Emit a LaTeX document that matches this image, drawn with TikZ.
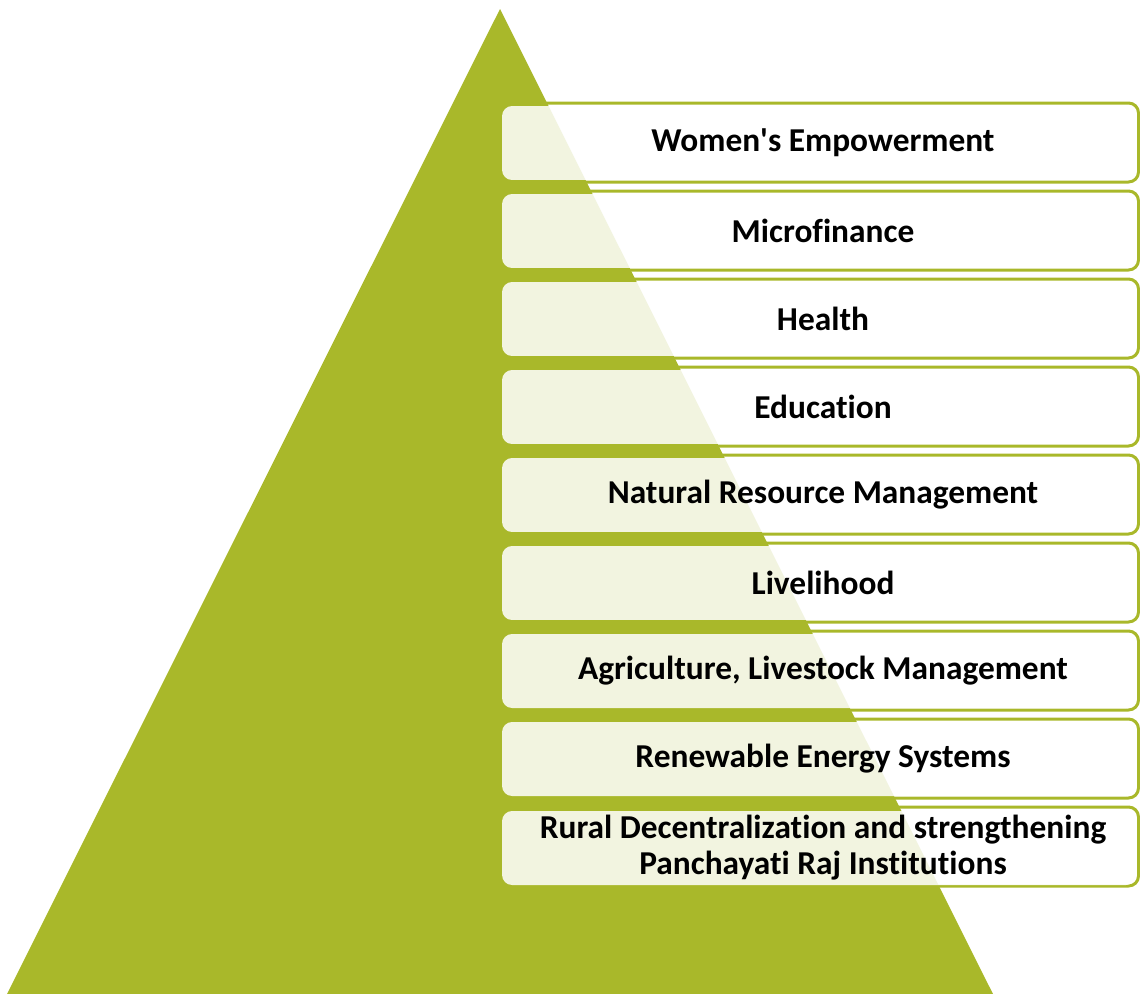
\documentclass[tikz,border=0pt]{standalone}
\usepackage{fontspec}
\setmainfont{Carlito}[Ligatures={NoCommon}]
\definecolor{leaf}{HTML}{A9B82A}
\tikzset{
  item/.style={rectangle, rounded corners=0.2cm, fill=white, fill opacity=0.86, text opacity=1,
    minimum width=12.68cm, minimum height=1.48cm, inner sep=0pt, align=center,
    font=\bfseries\fontsize{19}{20.5}\selectfont},
  rim/.style={draw=leaf, line width=0.06cm, rounded corners=0.2cm}
}
\begin{document}
\begin{tikzpicture}[x=0.02cm,y=-0.02cm]
\useasboundingbox (0,0) rectangle (1140,994);
\fill[leaf] (500,9) -- (7,994) -- (993,994) -- cycle;
\draw[rim] (520,103) rectangle (1138.5,182);
\draw[rim] (520,191) rectangle (1138.5,270);
\draw[rim] (520,279) rectangle (1138.5,358);
\draw[rim] (520,367) rectangle (1138.5,446);
\draw[rim] (520,455) rectangle (1138.5,534);
\draw[rim] (520,543) rectangle (1138.5,622);
\draw[rim] (520,631) rectangle (1138.5,710);
\draw[rim] (520,719) rectangle (1138.5,798);
\draw[rim] (520,807) rectangle (1138.5,886);
\node[item] (women) at (819,143) {\hspace{0.16cm}Women\textquotesingle s Empowerment};
\node[item] (micro) at (819,231) {\hspace{0.16cm}Microfinance};
\node[item] (health) at (819,319) {\hspace{0.16cm}Health};
\node[item] (edu) at (819,407) {\hspace{0.16cm}Education};
\node[item] (nrm) at (819,495) {\hspace{0.16cm}Natural Resource Management};
\node[item] (live) at (819,583) {\hspace{0.16cm}Livelihood};
\node[item] (agri) at (819,671) {\hspace{0.16cm}Agriculture, Livestock Management};
\node[item] (energy) at (819,759) {\hspace{0.16cm}Renewable Energy Systems};
\node[item] (rural) at (819,848) {\hspace{0.16cm}Rural Decentralization and strengthening\\\hspace{0.16cm}Panchayati Raj Institutions};
\end{tikzpicture}
\end{document}
